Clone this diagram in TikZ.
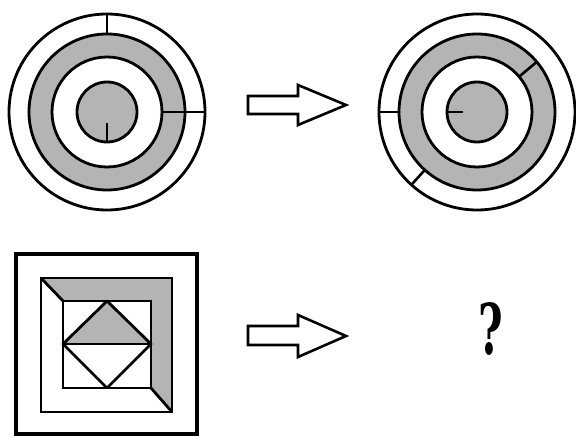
\documentclass[tikz,border=0pt]{standalone}
\usepackage{graphicx}
\usepackage{fontspec}
\newfontfamily\qfont{DejaVu Serif}
\usetikzlibrary{calc}
\definecolor{ringgray}{RGB}{180,180,180}
\begin{document}
\begin{tikzpicture}[x=1pt,y=-1pt,
  ln/.style={line width=2.8pt},
  tick/.style={line width=2.6pt},
  arrowshape/.style={line width=2.6pt,fill=white,line join=miter}]
\useasboundingbox (0,0) rectangle (576,438);
% ---------- circle figure 1
\coordinate (c1) at (107,112);
\draw[ln] (c1) circle[radius=98];
\draw[ln,fill=ringgray,even odd rule] (c1) circle[radius=78] (c1) circle[radius=55];
\draw[ln,fill=ringgray] (c1) circle[radius=30];
\draw[tick] ($(c1)+(0,-98)$) -- ($(c1)+(0,-78)$);
\draw[tick] ($(c1)+(55,0)$) -- ($(c1)+(98,0)$);
\draw[tick] ($(c1)+(0,11)$) -- ($(c1)+(0,30)$);
% ---------- circle figure 2
\coordinate (c2) at (477,112);
\draw[ln] (c2) circle[radius=98];
\draw[ln,fill=ringgray,even odd rule] (c2) circle[radius=78] (c2) circle[radius=55];
\draw[ln,fill=ringgray] (c2) circle[radius=30];
\draw[tick] ($(c2)+(-98,0)$) -- ($(c2)+(-78,0)$);
\draw[tick] ($(c2)+({78*cos(228)},{-78*sin(228)})$) -- ($(c2)+({98*cos(228)},{-98*sin(228)})$);
\draw[tick] ($(c2)+({55*cos(40)},{-55*sin(40)})$) -- ($(c2)+({78*cos(40)},{-78*sin(40)})$);
\draw[tick] ($(c2)+(-30,0)$) -- ($(c2)+(-14,0)$);
% ---------- arrows
\draw[arrowshape] (248,96) -- (298,96) -- (298,85) -- (346,105) -- (298,125) -- (298,114) -- (248,114) -- cycle;
\draw[arrowshape] (248,326) -- (298,326) -- (298,315) -- (346,336) -- (298,357) -- (298,345) -- (248,345) -- cycle;
% ---------- square figure
\coordinate (oTL) at (16,254);
\coordinate (oBR) at (197,434);
\draw[line width=3.2pt] (oTL) rectangle (oBR);
\coordinate (mTL) at (41,278);
\coordinate (mTR) at (172,278);
\coordinate (mBR) at (172,412);
\coordinate (mBL) at (41,412);
\coordinate (iTL) at (63,301);
\coordinate (iTR) at (151,301);
\coordinate (iBR) at (151,388);
\coordinate (iBL) at (63,388);
\fill[ringgray] (mTL) -- (mTR) -- (mBR) -- (iBR) -- (iTR) -- (iTL) -- cycle;
\draw[ln] (mTL) -- (mTR) -- (mBR) -- (mBL) -- cycle;
\draw[ln] (iTL) -- (iTR) -- (iBR) -- (iBL) -- cycle;
\draw[ln] (mTL) -- (iTL);
\draw[ln] (iBR) -- (mBR);
\coordinate (dT) at (107,301);
\coordinate (dL) at (63,344);
\coordinate (dR) at (151,344);
\coordinate (dB) at (107,388);
\fill[ringgray] (dT) -- (dR) -- (dL) -- cycle;
\draw[ln,line join=round] (dT) -- (dR) -- (dB) -- (dL) -- cycle;
\draw[ln] (dL) -- (dR);
% ---------- question mark
\node (q) at (491,329) {\scalebox{0.6}[1]{\qfont\bfseries\fontsize{70}{70}\selectfont ?}};
\end{tikzpicture}
\end{document}
